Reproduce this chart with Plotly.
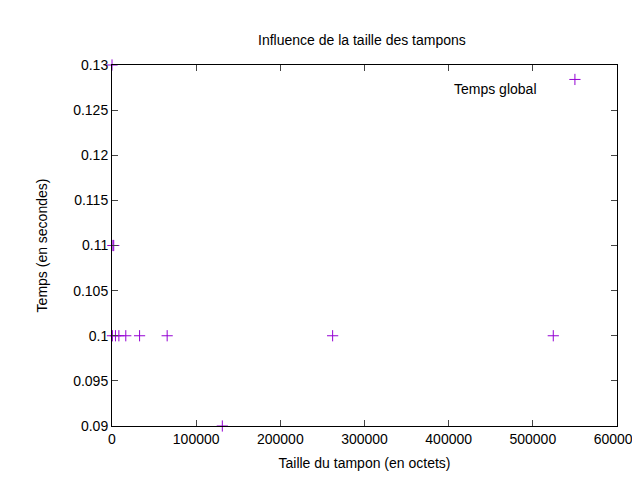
import plotly.graph_objects as go

# buffer size (bytes) vs total time (s)
taille = [1, 512, 1024, 2048, 4096, 8192, 16384, 32768, 65536, 131072, 262144, 524288]
temps = [0.13, 0.1, 0.11, 0.11, 0.1, 0.1, 0.1, 0.1, 0.1, 0.09, 0.1, 0.1]

mk = dict(symbol='cross-thin', size=8, line=dict(width=1, color='#9400d3'))
fig = go.Figure()
fig.add_trace(go.Scatter(x=taille, y=temps, mode='markers', showlegend=False, marker=mk,
                         cliponaxis=False))

# gnuplot-style key, top right
fig.add_annotation(x=0.846, y=0.961, xref='paper', yref='paper', xanchor='right', showarrow=False,
                   text='Temps global', font=dict(size=14, color='black'))
fig.add_trace(go.Scatter(x=[550000], y=[0.1284], mode='markers', showlegend=False, hoverinfo='skip',
                         marker=mk))

axis = dict(showline=True, mirror='ticks', linecolor='black', linewidth=1, ticks='inside',
            ticklen=6, showgrid=False, zeroline=False, automargin=False,
            tickfont=dict(size=14, color='black'))
fig.update_xaxes(range=[0, 600000], dtick=100000, tickformat='d',
                 title=dict(text='Taille du tampon (en octets)', font=dict(size=14), standoff=12), **axis)
fig.update_yaxes(range=[0.09, 0.13], dtick=0.005,
                 title=dict(text='Temps (en secondes)', font=dict(size=14), standoff=22), **axis)
fig.update_layout(width=640, height=480, plot_bgcolor='white', paper_bgcolor='white',
                  margin=dict(l=104, r=31, t=57, b=62),
                  font=dict(family='Liberation Sans, Arial', size=14, color='black'),
                  title=dict(text='Influence de la taille des tampons', x=0.553, y=0.943,
                             xanchor='center', font=dict(size=14)))
fig.write_html('out.html')
